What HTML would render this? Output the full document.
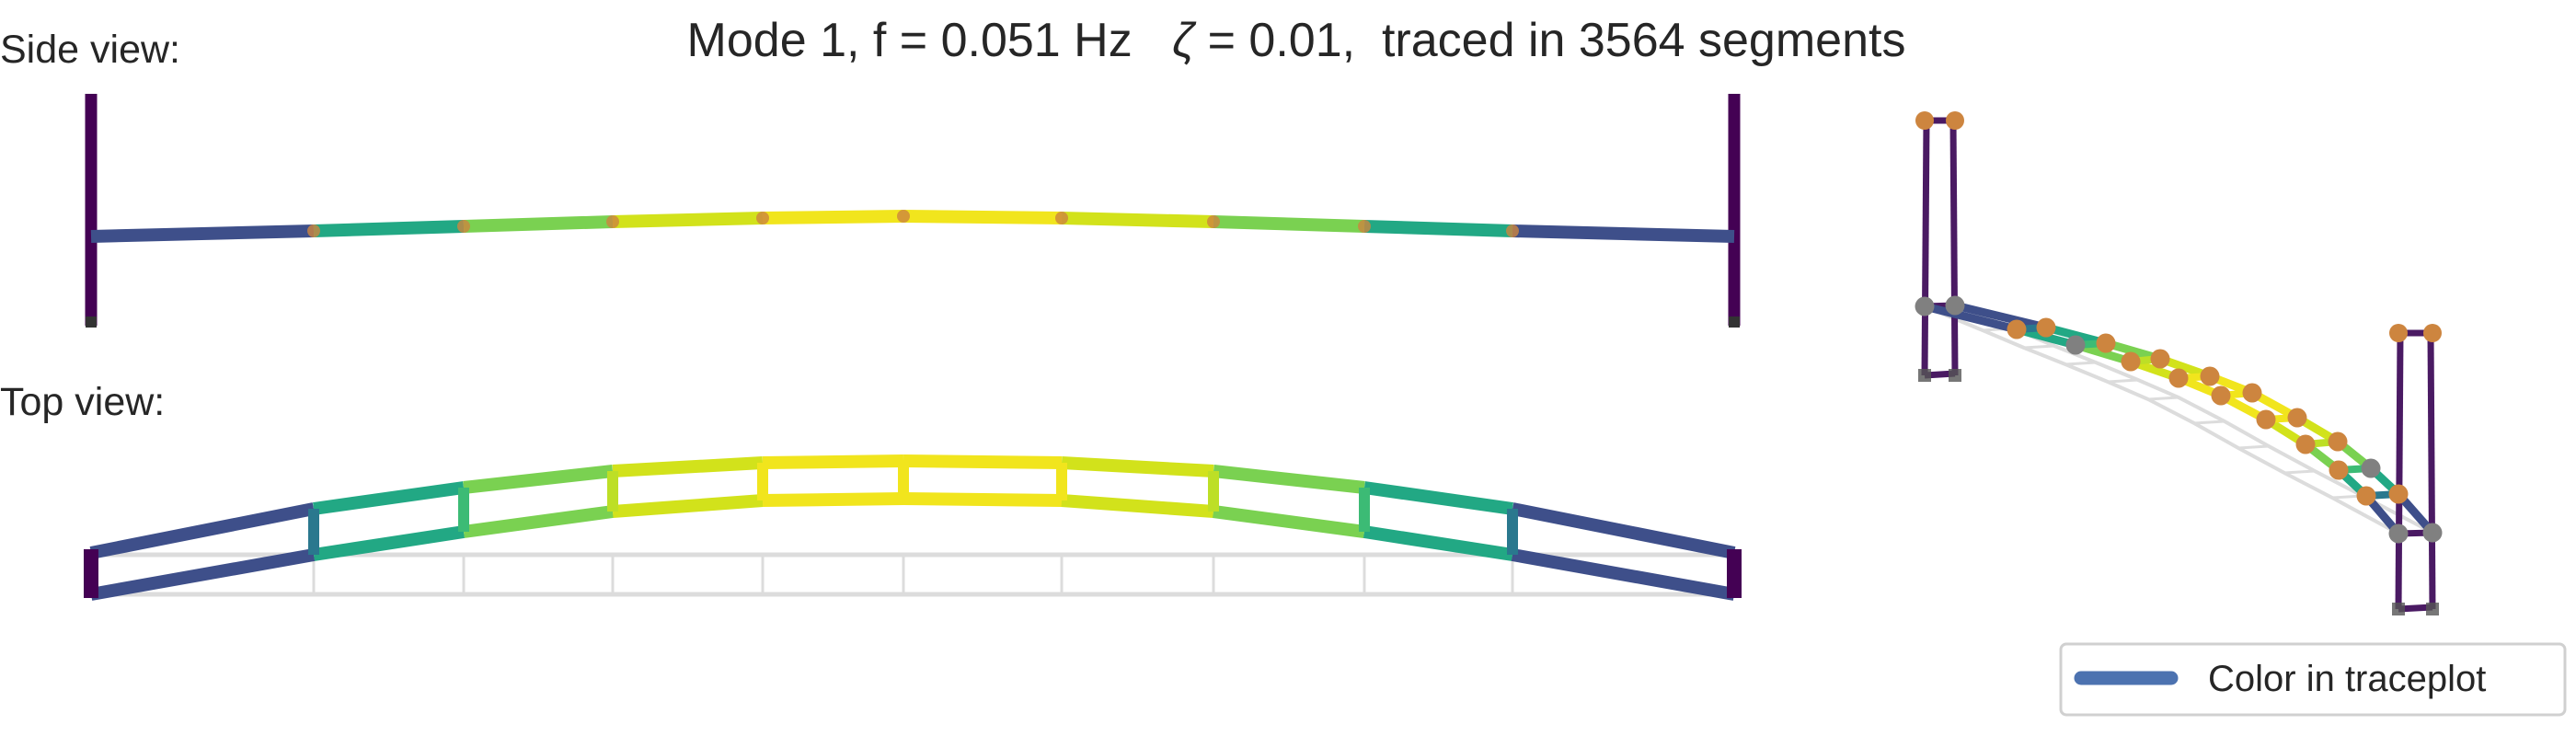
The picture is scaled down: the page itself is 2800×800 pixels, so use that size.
<!DOCTYPE html>
<html><head><meta charset="utf-8"><style>
html,body{margin:0;padding:0;background:#fff;}
svg{display:block;font-family:"Liberation Sans",sans-serif;}
</style></head><body>
<svg id="fig" width="2800" height="800" viewBox="0 0 2800 800">
<text x="1409" y="61" font-size="52" text-anchor="middle" fill="#262626" style="white-space:pre">Mode 1, f = 0.051 Hz   <tspan font-style="italic">ζ</tspan> = 0.01,  traced in 3564 segments</text>
<text x="0" y="68" font-size="43" fill="#262626">Side view:</text>
<text x="0" y="451" font-size="43" fill="#262626">Top view:</text>
<g id="sideG"></g>
<g id="topG"></g>
<g id="isoG"></g>
<g>
<rect x="2240" y="700" width="548" height="77" rx="6" fill="#fff" stroke="#d0d0d0" stroke-width="3"/>
<line x1="2262" y1="737" x2="2360" y2="737" stroke="#4c72b0" stroke-width="15" stroke-linecap="round"/>
<text x="2400" y="751" font-size="40" fill="#262626">Color in traceplot</text>
</g>
</svg>
<script>
// Data
const nodeX = [99, 341, 504, 666, 829, 982, 1154, 1319, 1483, 1644, 1885];
const sideDeckY = [257, 251, 246, 241, 237, 235, 237, 241, 246, 251, 257];
const topUpperY = [601, 553, 530, 512, 503, 501, 503, 512, 530, 553, 601];
const topLowerY = [646, 603, 578, 556, 544, 542, 544, 556, 578, 603, 646];
const segColors = ['#3e4f8a','#22a884','#7ad151','#d2e21b','#f1e51d','#f1e51d','#d2e21b','#7ad151','#22a884','#3e4f8a'];
const nodeColors = ['#440154','#2a788e','#3cbb75','#bddf26','#f1e51d','#f1e51d','#f1e51d','#bddf26','#3cbb75','#2a788e','#440154'];
const isoA = [[2125,332],[2224,356],[2289,373],[2348,390],[2402,409],[2448,427],[2497,454],[2541,480],[2577,509],[2607,537],[2644,579]];
const isoB = [[2092,333],[2192,358],[2256,375],[2316,393],[2368,411],[2414,430],[2463,456],[2506,483],[2542,511],[2572,539],[2607,580]];
const refB = [[2092,333],[2155,359],[2200,378],[2245,396],[2291,415],[2335,434],[2385,460],[2433,487],[2483,514],[2535,541],[2607,580]];
const greyDotsA = [0,8,10];
const greyDotsB = [0,2,10];

(function(){
const NS='http://www.w3.org/2000/svg';
function mk(parent,tag,attrs){const e=document.createElementNS(NS,tag);for(const k in attrs)e.setAttribute(k,attrs[k]);parent.appendChild(e);return e;}

// Side view
const sideEl=document.getElementById('sideG');
[0,10].forEach(i=>{
  const t=mk(sideEl,'line',{x1:nodeX[i],y1:102,x2:nodeX[i],y2:354,stroke:'#440154','stroke-width':13});
  
  
  const b=mk(sideEl,'rect',{x:nodeX[i]-6,y:344,width:12,height:12,fill:'#333'});
  
  
});
for(let i=0;i<10;i++){
  const l=mk(sideEl,'line',{x1:nodeX[i],y1:sideDeckY[i],x2:nodeX[i+1],y2:sideDeckY[i+1],stroke:segColors[i],'stroke-width':14});
  
  
}
for(let i=1;i<10;i++){
  const c=mk(sideEl,'circle',{cx:nodeX[i],cy:sideDeckY[i],r:7,fill:'#cd853f',opacity:0.8});
  
  
}

// Top view
const topEl=document.getElementById('topG');
[603,646].forEach(y=>{
  const g=mk(topEl,'line',{x1:nodeX[0],y1:y,x2:nodeX[10],y2:y,stroke:'#dcdcdc','stroke-width':5});
  
  
});
for(let i=1;i<10;i++){
  const g=mk(topEl,'line',{x1:nodeX[i],y1:603,x2:nodeX[i],y2:646,stroke:'#dcdcdc','stroke-width':3});
  
  
}
for(let i=0;i<10;i++){
  [topUpperY,topLowerY].forEach(arr=>{
    const l=mk(topEl,'line',{x1:nodeX[i],y1:arr[i],x2:nodeX[i+1],y2:arr[i+1],stroke:segColors[i],'stroke-width':14});
    
    
  });
}
for(let i=1;i<10;i++){
  const l=mk(topEl,'line',{x1:nodeX[i],y1:topUpperY[i],x2:nodeX[i],y2:topLowerY[i],stroke:nodeColors[i],'stroke-width':12});
  
  
}
[0,10].forEach(i=>{
  const r=mk(topEl,'rect',{x:nodeX[i]-8,y:topUpperY[i]-4,width:16,height:topLowerY[i]-topUpperY[i]+8,fill:'#440154'});
  
  
});

// 3D view
const isoEl=document.getElementById('isoG');
const refA=refB.map(p=>[p[0]+33,p[1]-2]);
refA[0]=isoA[0];refA[10]=isoA[10];
[refA,refB].forEach(arr=>{
  const pl=mk(isoEl,'polyline',{points:arr.map(p=>p.join(',')).join(' '),fill:'none',stroke:'#dcdcdc','stroke-width':4});
  
  
});
for(let i=1;i<10;i++){
  const g=mk(isoEl,'line',{x1:refB[i][0],y1:refB[i][1],x2:refA[i][0],y2:refA[i][1],stroke:'#dcdcdc','stroke-width':3});
  
  
}
const towers=[{xs:[isoB[0][0],isoA[0][0]],top:131,bot:408,deck:[isoB[0][1],isoA[0][1]]},{xs:[isoB[10][0],isoA[10][0]],top:362,bot:662,deck:[isoB[10][1],isoA[10][1]]}];
towers.forEach(t=>{
  t.xs.forEach((x,k)=>{
    const l=mk(isoEl,'line',{x1:x+(k?-1:1)*2,y1:t.top,x2:x,y2:t.bot,stroke:'#4a1a63','stroke-width':7});
    
    
  });
  [[t.top,t.top],[t.deck[0],t.deck[1]],[t.bot,t.bot-2]].forEach(yy=>{
    const l=mk(isoEl,'line',{x1:t.xs[0],y1:yy[0],x2:t.xs[1],y2:yy[1],stroke:'#4a1a63','stroke-width':7});
    
    
  });
  t.xs.forEach(x=>{
    const s=mk(isoEl,'rect',{x:x-7,y:t.bot-7,width:14,height:14,fill:'#555',opacity:0.8});
    
    
    const c=mk(isoEl,'circle',{cx:x,cy:t.top,r:10,fill:'#cd853f'});
    
    
  });
});
for(let i=0;i<10;i++){
  [isoA,isoB].forEach(arr=>{
    const l=mk(isoEl,'line',{x1:arr[i][0],y1:arr[i][1],x2:arr[i+1][0],y2:arr[i+1][1],stroke:segColors[i],'stroke-width':9});
    
    
  });
}
for(let i=1;i<10;i++){
  const l=mk(isoEl,'line',{x1:isoA[i][0],y1:isoA[i][1],x2:isoB[i][0],y2:isoB[i][1],stroke:nodeColors[i],'stroke-width':8});
  
  
}
[[isoA,greyDotsA],[isoB,greyDotsB]].forEach(([arr,greys])=>{
  arr.forEach((p,i)=>{
    const c=mk(isoEl,'circle',{cx:p[0],cy:p[1],r:10.5,fill:greys.includes(i)?'#808080':'#cd853f'});
    
    
  });
});
})();
</script>
</body></html>
